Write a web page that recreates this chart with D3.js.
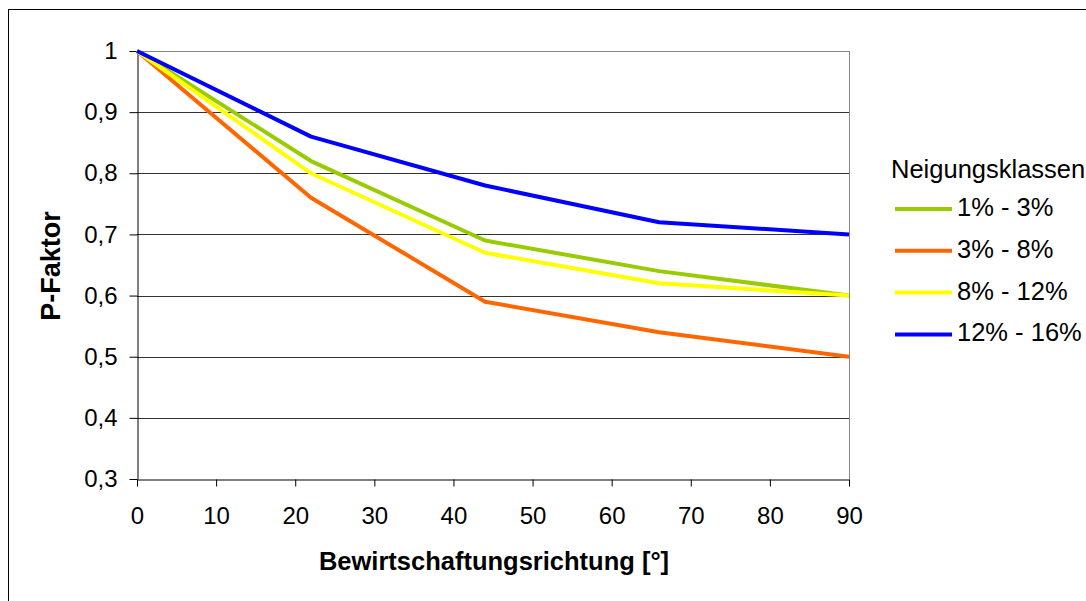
<!DOCTYPE html>
<html>
<head>
<meta charset="utf-8">
<script src="https://cdn.jsdelivr.net/npm/d3@7"></script>
<style>
  html, body { margin: 0; padding: 0; background: #fff; overflow: hidden; }
  svg { display: block; font-family: "Liberation Sans", Arial, sans-serif; }
</style>
</head>
<body>
<svg id="chart" width="1086" height="601"></svg>
<script>
// Bewirtschaftungsrichtung in Grad
const angles = [0, 22, 44, 66, 90];

// P-Faktor je Neigungsklasse
const classNames = ["1% - 3%", "3% - 8%", "8% - 12%", "12% - 16%"];
const pSlope1to3   = [1, 0.82, 0.69, 0.64, 0.60];
const pSlope3to8   = [1, 0.76, 0.59, 0.54, 0.50];
const pSlope8to12  = [1, 0.80, 0.67, 0.62, 0.60];
const pSlope12to16 = [1, 0.86, 0.78, 0.72, 0.70];

const xTicks = [0, 10, 20, 30, 40, 50, 60, 70, 80, 90];
const yTicks = [0.3, 0.4, 0.5, 0.6, 0.7, 0.8, 0.9, 1];

const seriesColors = ["#99CC00", "#FF6600", "#FFFF00", "#0000FF"];
const series = [pSlope1to3, pSlope3to8, pSlope8to12, pSlope12to16].map((vals, i) => ({
  name: classNames[i],
  color: seriesColors[i],
  points: angles.map((a, j) => ({ x: a, y: vals[j] }))
}));

const svg = d3.select("#chart");

// Rahmen des Diagrammbereichs
svg.append("rect")
  .attr("x", 8.5).attr("y", 9.5)
  .attr("width", 1100).attr("height", 620)
  .attr("fill", "#fff").attr("stroke", "#000").attr("stroke-width", 1);

const plot = { left: 137, right: 849, top: 51, bottom: 479 };

const x = d3.scaleLinear().domain([0, 90]).range([plot.left, plot.right]);
const y = d3.scaleLinear().domain([0.3, 1]).range([plot.bottom, plot.top]);

const fmt = d => String(d).replace(".", ",");

// Gitternetzlinien
svg.append("g")
  .selectAll("line")
  .data(yTicks.filter(t => t > 0.3))
  .join("line")
  .attr("x1", plot.left).attr("x2", plot.right)
  .attr("y1", d => Math.round(y(d)) + 0.5).attr("y2", d => Math.round(y(d)) + 0.5)
  .attr("stroke", d => d === 1 ? "#888" : "#333").attr("stroke-width", 1);

// rechter Rand der Zeichenfläche
svg.append("line")
  .attr("x1", plot.right + 0.5).attr("x2", plot.right + 0.5)
  .attr("y1", plot.top).attr("y2", plot.bottom)
  .attr("stroke", "#888").attr("stroke-width", 1);

// Achsen
const xAxis = svg.append("g")
  .attr("transform", `translate(0,${plot.bottom + 0.5})`)
  .call(d3.axisBottom(x).tickValues(xTicks).tickSize(7).tickSizeOuter(0).tickPadding(20).tickFormat(d => fmt(d)));
const yAxis = svg.append("g")
  .attr("transform", `translate(${plot.left + 0.5},0)`)
  .call(d3.axisLeft(y).tickValues(yTicks).tickSize(8).tickSizeOuter(0).tickPadding(12).tickFormat(d => fmt(d)));

[xAxis, yAxis].forEach(g => {
  g.select(".domain").attr("stroke", "#000");
  g.selectAll(".tick line").attr("stroke", "#000");
  g.selectAll(".tick text")
    .attr("fill", "#000")
    .style("font-family", "\"Liberation Sans\", Arial, sans-serif")
    .style("font-size", "24px");
});
xAxis.selectAll(".tick text").attr("dy", "0.71em");

// Linien
const line = d3.line().x(d => x(d.x)).y(d => y(d.y));
svg.append("g")
  .selectAll("path")
  .data(series)
  .join("path")
  .attr("d", d => line(d.points))
  .attr("fill", "none")
  .attr("stroke", d => d.color)
  .attr("stroke-width", 4)
  .attr("stroke-linejoin", "round");

// Achsentitel
svg.append("text")
  .attr("x", 494)
  .attr("y", 570)
  .attr("text-anchor", "middle")
  .style("font-size", "25.5px")
  .style("font-weight", "bold")
  .text("Bewirtschaftungsrichtung [°]");

svg.append("text")
  .attr("transform", "translate(60,266) rotate(-90)")
  .attr("text-anchor", "middle")
  .style("font-size", "27px")
  .style("font-weight", "bold")
  .text("P-Faktor");

// Legende
const legend = svg.append("g");
legend.append("text")
  .attr("x", 891).attr("y", 178)
  .style("font-size", "25.5px")
  .text("Neigungsklassen");

const rows = legend.selectAll("g.row")
  .data(series)
  .join("g")
  .attr("class", "row")
  .attr("transform", (d, i) => `translate(0,${209 + i * 41.8})`);
rows.append("line")
  .attr("x1", 895).attr("x2", 952)
  .attr("y1", 0).attr("y2", 0)
  .attr("stroke", d => d.color).attr("stroke-width", 4);
rows.append("text")
  .attr("x", 957).attr("y", -2).attr("dy", "0.35em")
  .style("font-size", "25.5px")
  .text(d => d.name);
</script>
</body>
</html>
